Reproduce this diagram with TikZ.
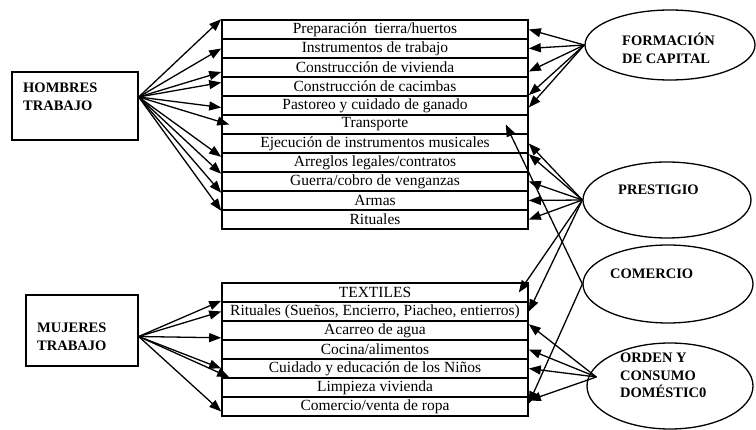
\documentclass[tikz,border=0pt]{standalone}
\usepackage{fontspec}
\setmainfont{Liberation Serif}
\usetikzlibrary{arrows.meta,shapes.geometric}
\tikzset{
fila/.style={draw,line width=1.6pt,minimum width=306pt,minimum height=19pt,inner sep=0pt,font=\fontsize{15.5}{17}\selectfont},
caja/.style={draw,line width=1.4pt},
ovalo/.style={draw,ellipse,line width=1.3pt,inner sep=0pt},
rotulo/.style={font=\fontsize{14.5}{17.5}\selectfont\bfseries,align=left,anchor=north west,inner sep=0pt},
flecha/.style={line width=1.3pt,-{Triangle[length=12pt,width=9pt]}}
}
\begin{document}
\begin{tikzpicture}[x=1pt,y=-1pt]
\useasboundingbox (0,0) rectangle (756,430);
\node[caja,minimum width=126pt,minimum height=68pt] (hombres) at (75,106) {};
\node[rotulo] (thombres) at (23,83) {HOMBRES\\TRABAJO};
\node[caja,minimum width=112pt,minimum height=71pt] (mujeres) at (82,330.5) {};
\node[rotulo] (tmujeres) at (37,323) {MUJERES\\TRABAJO};
\node[fila] (h1) at (375,29.5) {Preparación\ \ tierra/huertos};
\node[fila] (h2) at (375,48.5) {Instrumentos de trabajo};
\node[fila] (h3) at (375,67.5) {Construcción de vivienda};
\node[fila] (h4) at (375,86.5) {Construcción de cacimbas};
\node[fila] (h5) at (375,105.5) {Pastoreo y cuidado de ganado};
\node[fila] (h6) at (375,124.5) {Transporte};
\node[fila] (h7) at (375,143.5) {Ejecución de instrumentos musicales};
\node[fila] (h8) at (375,162.5) {Arreglos legales/contratos};
\node[fila] (h9) at (375,181.5) {Guerra/cobro de venganzas};
\node[fila] (h10) at (375,200.5) {Armas};
\node[fila] (h11) at (375,219.5) {Rituales};
\node[fila] (m1) at (375,292.5) {TEXTILES};
\node[fila] (m2) at (375,311.5) {Rituales (Sueños, Encierro, Piacheo, entierros)};
\node[fila] (m3) at (375,330.5) {Acarreo de agua};
\node[fila] (m4) at (375,349.5) {Cocina/alimentos};
\node[fila] (m5) at (375,368.5) {Cuidado y educación de los Niños};
\node[fila] (m6) at (375,387.5) {Limpieza vivienda};
\node[fila] (m7) at (375,406.5) {Comercio/venta de ropa};
\node[ovalo,minimum width=170pt,minimum height=70pt] (capital) at (670,45) {};
\node[rotulo] (tcapital) at (622,33) {FORMACIÓN\\DE CAPITAL};
\node[ovalo,minimum width=168pt,minimum height=76pt] (prestigio) at (667,200) {};
\node[rotulo] (tprestigio) at (618,185) {PRESTIGIO};
\node[ovalo,minimum width=170pt,minimum height=78pt] (comercio) at (668,284) {};
\node[rotulo] (tcomercio) at (610,269) {COMERCIO};
\node[ovalo,minimum width=166pt,minimum height=86pt] (orden) at (670,386) {};
\node[rotulo] (torden) at (620,353) {ORDEN Y\\CONSUMO\\DOMÉSTIC0};
\draw[flecha] ([yshift=9pt]hombres.east) -- (h1.north west);
\draw[flecha] ([yshift=9pt]hombres.east) -- (h2.west);
\draw[flecha] ([yshift=9pt]hombres.east) -- ([yshift=-4.5pt]h3.west);
\draw[flecha] ([yshift=9pt]hombres.east) -- ([yshift=4pt]h4.west);
\draw[flecha] ([yshift=9pt]hombres.east) -- ([yshift=-2pt]h5.west);
\draw[flecha] ([yshift=9pt]hombres.east) -- ([xshift=8pt]h6.west);
\draw[flecha] ([yshift=9pt]hombres.east) -- ([yshift=-3pt]h7.south west);
\draw[flecha] ([yshift=9pt]hombres.east) -- ([yshift=-1pt]h8.south west);
\draw[flecha] ([yshift=9pt]hombres.east) -- ([yshift=-1pt]h9.south west);
\draw[flecha] ([yshift=9pt]hombres.east) -- (h10.south west);
\draw[flecha] ([yshift=-6pt]mujeres.east) -- ([yshift=2pt]m1.south west);
\draw[flecha] ([yshift=-6pt]mujeres.east) -- (m2.west);
\draw[flecha] ([yshift=-6pt]mujeres.east) -- ([yshift=3pt]m3.south west);
\draw[flecha] ([yshift=-6pt]mujeres.east) -- (m5.west);
\draw[flecha] ([yshift=-6pt]mujeres.east) -- ([xshift=8pt]m6.north west);
\draw[flecha] ([yshift=-6pt]mujeres.east) -- ([yshift=-5pt]m7.west);
\draw[flecha] (capital.west) -- (h1.east);
\draw[flecha] (capital.west) -- (h2.east);
\draw[flecha] (capital.west) -- ([yshift=-4pt]h3.east);
\draw[flecha] (capital.west) -- (h5.north east);
\draw[flecha] (capital.west) -- ([yshift=-2pt]h5.east);
\draw[flecha] (prestigio.west) -- (h7.east);
\draw[flecha] (prestigio.west) -- ([yshift=-2pt]h8.north east);
\draw[flecha] (prestigio.west) -- (h9.east);
\draw[flecha] (prestigio.west) -- (h10.east);
\draw[flecha] (prestigio.west) -- (h11.east);
\draw[flecha] (prestigio.west) -- ([xshift=-10pt]m1.east);
\draw[flecha] (prestigio.west) -- (m2.east);
\draw[flecha] (comercio.west) -- ([xshift=-23pt]h6.east);
\draw[flecha] (comercio.west) -- ([yshift=3pt]m7.east);
\draw[flecha] ([shift={(10pt,9pt)}]orden.west) -- ([yshift=-4pt]m3.north east);
\draw[flecha] ([shift={(10pt,9pt)}]orden.west) -- (m4.east);
\draw[flecha] ([shift={(10pt,9pt)}]orden.west) -- (m5.east);
\draw[flecha] ([shift={(10pt,9pt)}]orden.west) -- ([yshift=6pt]m7.east);
\end{tikzpicture}
\end{document}
